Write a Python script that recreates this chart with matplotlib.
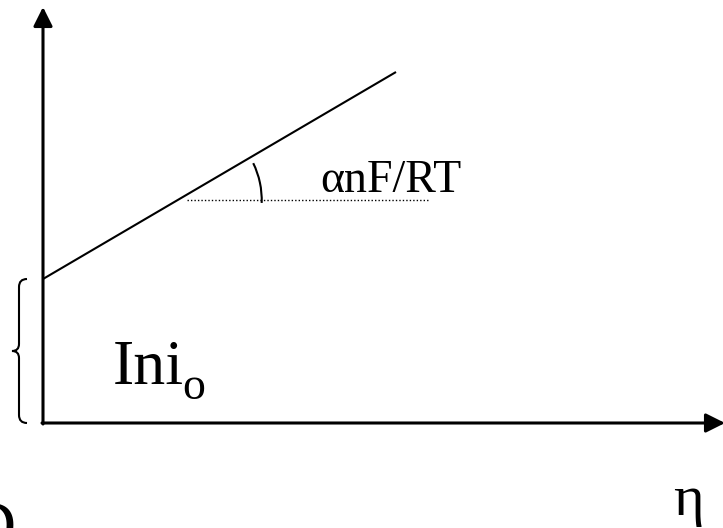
import matplotlib
matplotlib.use("Agg")
import matplotlib.pyplot as plt
from matplotlib.patches import Arc, PathPatch
from matplotlib.path import Path

# Tafel line: overpotential vs log of current (schematic units)
eta = [0, 353]
log_i = [144, 351]
# horizontal reference for the slope angle
ref_x = [144, 385]
ref_y = 223
slope_label = "αnF/RT"
intercept_label = "Ini"
intercept_sub = "o"
x_label = "η"

plt.rcParams['font.family'] = ['Liberation Serif', 'DejaVu Serif']

fig = plt.figure(figsize=(7.23, 5.28), dpi=100)
ax = fig.add_axes([0, 0, 1, 1])
ax.set_xlim(-43, 680)
ax.set_ylim(-105, 423)
ax.axis('off')

# axes with arrow heads
arrow = dict(arrowstyle='-|>', lw=2.2, color='black', mutation_scale=29,
             shrinkA=0, shrinkB=0)
ax.annotate("", xy=(0, 416), xytext=(0, -1), arrowprops=arrow,
            annotation_clip=False)
ax.annotate("", xy=(682, 0), xytext=(-1, 0), arrowprops=arrow,
            annotation_clip=False)

# the straight line
ax.plot(eta, log_i, color='black', lw=1.5, solid_capstyle='butt')

# dotted reference and angle arc
ax.plot(ref_x, [ref_y, ref_y], color='black', lw=1, ls=(0, (1, 1.5)))
slope = (log_i[1] - log_i[0]) / (eta[1] - eta[0])
x_cross = eta[0] + (ref_y - log_i[0]) / slope
ax.add_patch(Arc((x_cross, ref_y), 168, 168, theta1=-2, theta2=26,
                 color='black', lw=1.5))
ax.text(277, 231, slope_label, fontsize=33, va='baseline', ha='left')

# brace marking the intercept
mid = log_i[0] / 2
verts = [(-16, log_i[0]), (-24, log_i[0]), (-24, log_i[0] - 8),
         (-24, mid + 7), (-24, mid), (-31, mid),
         (-24, mid), (-24, mid - 7),
         (-24, 8), (-24, 0), (-16, 0)]
codes = [Path.MOVETO, Path.CURVE3, Path.CURVE3,
         Path.LINETO, Path.CURVE3, Path.CURVE3,
         Path.CURVE3, Path.CURVE3,
         Path.LINETO, Path.CURVE3, Path.CURVE3]
ax.add_patch(PathPatch(Path(verts, codes), fill=False, lw=1.5, color='black'))

ax.text(70, 39, intercept_label, fontsize=46, va='baseline', ha='left')
ax.text(139, 24, intercept_sub, fontsize=33, va='baseline', ha='left')

ax.text(630, -92, x_label, fontsize=42, va='baseline', ha='left')
ax.text(-76, -124, "D", fontsize=48, va='baseline', ha='left')

fig.savefig("out.png", dpi=100)
